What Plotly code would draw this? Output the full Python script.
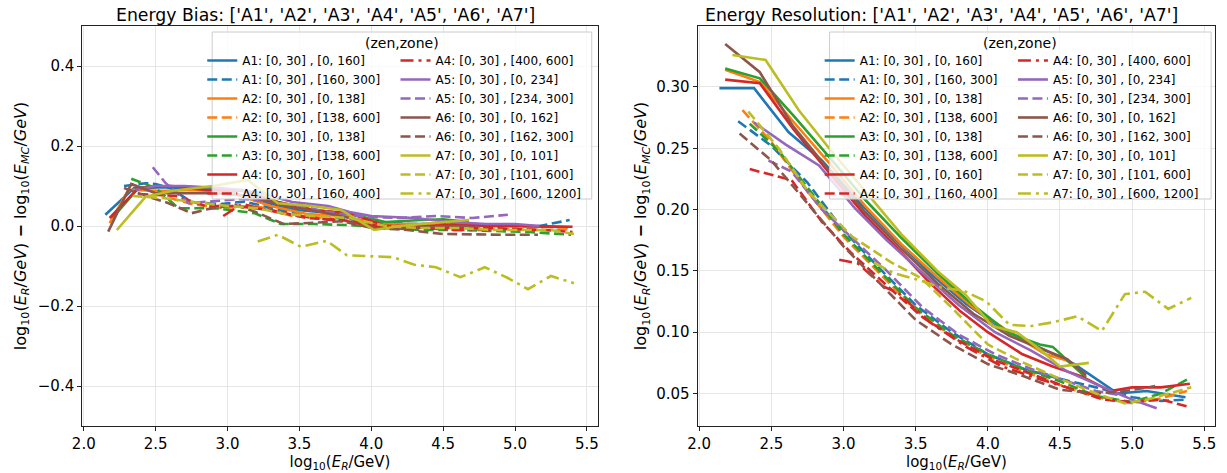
import plotly.graph_objects as go

# ---------------- data ----------------
labels = [
    "A1: [0, 30] , [0, 160]", "A1: [0, 30] , [160, 300]",
    "A2: [0, 30] , [0, 138]", "A2: [0, 30] , [138, 600]",
    "A3: [0, 30] , [0, 138]", "A3: [0, 30] , [138, 600]",
    "A4: [0, 30] , [0, 160]", "A4: [0, 30] , [160, 400]",
    "A4: [0, 30] , [400, 600]",
    "A5: [0, 30] , [0, 234]", "A5: [0, 30] , [234, 300]",
    "A6: [0, 30] , [0, 162]", "A6: [0, 30] , [162, 300]",
    "A7: [0, 30] , [0, 101]", "A7: [0, 30] , [101, 600]",
    "A7: [0, 30] , [600, 1200]",
]
colors = ["#1f77b4", "#1f77b4", "#ff7f0e", "#ff7f0e", "#2ca02c", "#2ca02c",
          "#d62728", "#d62728", "#d62728", "#9467bd", "#9467bd",
          "#8c564b", "#8c564b", "#bcbd22", "#bcbd22", "#bcbd22"]
styles = ["solid", "dash", "solid", "dash", "solid", "dash", "solid", "dash",
          "dashdot", "solid", "dash", "solid", "dash", "solid", "dash", "dashdot"]

bias_x = [
    [2.15, 2.35, 2.58, 2.80, 3.02, 3.25, 3.48, 3.70, 3.92, 4.15, 4.38, 4.60, 4.90, 5.10, 5.37],
    [2.28, 2.43, 2.50, 2.60, 2.75, 2.95, 3.12, 3.30, 3.50, 3.75, 4.00, 4.25, 4.50, 4.75, 5.00, 5.17, 5.38],
    [2.18, 2.31, 2.55, 2.80, 3.05, 3.30, 3.55, 3.80, 4.05, 4.30, 4.50, 4.68],
    [2.30, 2.45, 2.60, 2.75, 2.95, 3.20, 3.45, 3.70, 3.95, 4.20, 4.45, 4.70, 4.95, 5.20, 5.38],
    [2.20, 2.38, 2.60, 2.85, 3.10, 3.35, 3.60, 3.85, 4.10, 4.35, 4.50, 4.68],
    [2.33, 2.50, 2.66, 2.90, 3.19, 3.37, 3.60, 3.86, 4.10, 4.35, 4.60, 4.85, 5.10, 5.39],
    [2.18, 2.38, 2.60, 2.85, 3.10, 3.35, 3.60, 3.85, 4.10, 4.35, 4.60, 4.85, 5.10, 5.40],
    [2.38, 2.64, 2.85, 3.05, 3.30, 3.55, 3.80, 4.05, 4.30, 4.55, 4.80, 5.00, 5.20, 5.40],
    [2.97, 3.10, 3.28, 3.40, 3.60, 3.85, 4.10, 4.35, 4.60, 4.85],
    [2.36, 2.50, 2.70, 2.95, 3.20, 3.45, 3.70, 3.85, 4.00, 4.30, 4.55, 4.80, 5.00, 5.17],
    [2.48, 2.57, 2.73, 2.90, 3.10, 3.30, 3.50, 3.70, 3.95, 4.20, 4.45, 4.70, 4.95],
    [2.17, 2.33, 2.50, 2.70, 2.91, 3.15, 3.40, 3.65, 3.85, 4.02, 4.30, 4.55, 4.68],
    [2.28, 2.45, 2.59, 2.75, 2.86, 3.05, 3.19, 3.39, 3.60, 3.80, 4.00, 4.25, 4.50, 4.75, 4.95, 5.16],
    [2.23, 2.43, 2.62, 2.90, 3.14, 3.35, 3.58, 3.79, 4.02, 4.20, 4.45, 4.68],
    [2.34, 2.55, 2.76, 3.00, 3.20, 3.40, 3.60, 3.85, 4.10, 4.35, 4.60, 4.85, 5.10, 5.25, 5.41],
    [3.21, 3.35, 3.51, 3.69, 3.83, 3.99, 4.15, 4.30, 4.45, 4.62, 4.79, 4.95, 5.09, 5.25, 5.41],
]
bias_y = [
    [0.028, 0.095, 0.097, 0.090, 0.085, 0.060, 0.040, 0.033, 0.015, 0.005, 0.005, 0.003, 0.000, 0.000, -0.003],
    [0.100, 0.107, 0.105, 0.095, 0.060, 0.055, 0.061, 0.045, 0.030, 0.020, 0.012, 0.005, 0.005, 0.000, 0.000, 0.000, 0.015],
    [0.007, 0.090, 0.088, 0.090, 0.080, 0.050, 0.030, 0.025, 0.005, 0.005, 0.002, 0.000],
    [0.090, 0.090, 0.070, 0.055, 0.045, 0.050, 0.025, 0.020, 0.005, 0.000, -0.003, -0.005, -0.008, -0.010, -0.008],
    [0.020, 0.095, 0.100, 0.095, 0.090, 0.060, 0.040, 0.030, 0.010, 0.015, 0.017, 0.010],
    [0.118, 0.095, 0.044, 0.045, 0.032, 0.005, 0.005, 0.002, -0.005, -0.010, -0.010, -0.012, -0.015, -0.022],
    [0.020, 0.095, 0.100, 0.090, 0.088, 0.060, 0.040, 0.032, 0.000, 0.000, 0.003, 0.000, 0.000, -0.002],
    [0.080, 0.075, 0.050, 0.050, 0.040, 0.020, 0.015, 0.000, 0.000, -0.005, -0.005, -0.008, -0.010, -0.015],
    [0.025, 0.055, 0.040, 0.030, 0.020, 0.010, -0.005, -0.005, -0.010, -0.010],
    [0.090, 0.100, 0.100, 0.095, 0.085, 0.060, 0.050, 0.035, 0.025, 0.020, 0.010, 0.005, 0.005, 0.000],
    [0.147, 0.107, 0.057, 0.062, 0.068, 0.060, 0.050, 0.035, 0.023, 0.020, 0.025, 0.020, 0.028],
    [-0.014, 0.105, 0.082, 0.082, 0.082, 0.075, 0.050, 0.035, 0.020, -0.005, -0.005, 0.000, 0.000],
    [0.095, 0.073, 0.057, 0.032, 0.042, 0.053, 0.036, 0.005, 0.008, 0.012, -0.005, -0.010, -0.020, -0.022, -0.022, -0.022],
    [-0.010, 0.073, 0.088, 0.100, 0.115, 0.057, 0.050, 0.040, -0.010, 0.000, 0.008, 0.015],
    [0.075, 0.070, 0.060, 0.050, 0.045, 0.030, 0.025, 0.020, 0.000, -0.005, -0.005, -0.010, -0.010, -0.010, -0.020],
    [-0.039, -0.022, -0.052, -0.037, -0.073, -0.075, -0.078, -0.097, -0.103, -0.128, -0.103, -0.130, -0.158, -0.125, -0.143],
]

res_x = [
    [2.14, 2.38, 2.62, 2.85, 3.10, 3.35, 3.60, 3.85, 4.10, 4.35, 4.60, 4.90, 5.10, 5.37],
    [2.27, 2.50, 2.75, 3.00, 3.25, 3.50, 3.75, 4.00, 4.25, 4.50, 4.75, 5.00, 5.20, 5.38],
    [2.18, 2.42, 2.65, 2.90, 3.15, 3.40, 3.65, 3.90, 4.15, 4.40, 4.55, 4.68],
    [2.30, 2.50, 2.75, 3.00, 3.25, 3.50, 3.75, 4.00, 4.25, 4.50, 4.75, 5.00, 5.20, 5.38],
    [2.18, 2.42, 2.65, 2.90, 3.15, 3.40, 3.65, 3.90, 4.15, 4.36, 4.45, 4.68],
    [2.35, 2.55, 2.75, 3.00, 3.25, 3.50, 3.75, 4.00, 4.25, 4.50, 4.75, 5.00, 5.20, 5.39],
    [2.18, 2.42, 2.65, 2.90, 3.15, 3.40, 3.60, 3.81, 4.00, 4.24, 4.45, 4.65, 4.85, 5.00, 5.20, 5.40],
    [2.35, 2.64, 2.85, 3.05, 3.30, 3.55, 3.80, 4.05, 4.30, 4.55, 4.80, 5.00, 5.20, 5.40],
    [2.97, 3.10, 3.28, 3.38, 3.60, 3.85, 4.10, 4.35, 4.60, 4.85],
    [2.38, 2.60, 2.83, 3.08, 3.30, 3.55, 3.80, 4.05, 4.30, 4.55, 4.80, 5.00, 5.17],
    [2.48, 2.64, 2.85, 3.05, 3.30, 3.55, 3.80, 4.05, 4.30, 4.55, 4.75, 4.95],
    [2.18, 2.42, 2.65, 2.90, 3.15, 3.40, 3.65, 3.90, 4.15, 4.40, 4.55, 4.68],
    [2.28, 2.50, 2.75, 3.00, 3.25, 3.50, 3.75, 4.00, 4.25, 4.50, 4.75, 4.95, 5.16],
    [2.23, 2.46, 2.69, 2.90, 3.15, 3.40, 3.65, 3.85, 4.03, 4.20, 4.36, 4.50, 4.70],
    [2.34, 2.55, 2.76, 3.06, 3.33, 3.54, 3.75, 4.00, 4.25, 4.50, 4.75, 4.95, 5.10, 5.25, 5.41],
    [3.21, 3.35, 3.51, 3.69, 3.83, 3.99, 4.15, 4.30, 4.45, 4.62, 4.79, 4.95, 5.09, 5.25, 5.41],
]
res_y = [
    [0.299, 0.299, 0.263, 0.240, 0.207, 0.177, 0.148, 0.123, 0.103, 0.088, 0.074, 0.050, 0.052, 0.047],
    [0.272, 0.252, 0.222, 0.183, 0.152, 0.122, 0.100, 0.082, 0.070, 0.062, 0.055, 0.047, 0.044, 0.045],
    [0.314, 0.304, 0.272, 0.238, 0.203, 0.172, 0.145, 0.120, 0.100, 0.082, 0.077, 0.064],
    [0.281, 0.255, 0.215, 0.178, 0.148, 0.118, 0.097, 0.080, 0.068, 0.057, 0.047, 0.042, 0.046, 0.052],
    [0.315, 0.307, 0.277, 0.243, 0.208, 0.177, 0.148, 0.122, 0.099, 0.090, 0.088, 0.063],
    [0.270, 0.248, 0.218, 0.180, 0.150, 0.120, 0.098, 0.082, 0.070, 0.060, 0.048, 0.043, 0.050, 0.062],
    [0.306, 0.303, 0.266, 0.230, 0.195, 0.165, 0.140, 0.117, 0.100, 0.082, 0.072, 0.064, 0.052, 0.055, 0.055, 0.058],
    [0.233, 0.224, 0.190, 0.165, 0.138, 0.112, 0.093, 0.077, 0.066, 0.055, 0.045, 0.043, 0.045, 0.039],
    [0.159, 0.156, 0.137, 0.132, 0.108, 0.088, 0.072, 0.062, 0.053, 0.046],
    [0.271, 0.253, 0.236, 0.201, 0.175, 0.148, 0.122, 0.100, 0.085, 0.068, 0.055, 0.045, 0.038],
    [0.240, 0.231, 0.200, 0.178, 0.150, 0.120, 0.098, 0.082, 0.070, 0.060, 0.052, 0.048],
    [0.335, 0.312, 0.268, 0.232, 0.198, 0.168, 0.140, 0.115, 0.097, 0.085, 0.078, 0.065],
    [0.262, 0.240, 0.205, 0.170, 0.140, 0.110, 0.090, 0.074, 0.064, 0.053, 0.050, 0.052, 0.056],
    [0.326, 0.322, 0.281, 0.250, 0.215, 0.180, 0.150, 0.130, 0.105, 0.100, 0.086, 0.072, 0.075],
    [0.280, 0.250, 0.214, 0.178, 0.157, 0.144, 0.120, 0.090, 0.075, 0.062, 0.050, 0.042, 0.045, 0.050, 0.055],
    [0.157, 0.148, 0.143, 0.136, 0.134, 0.125, 0.106, 0.105, 0.108, 0.113, 0.101, 0.131, 0.133, 0.119, 0.128],
]

x_ticks = [2.0, 2.5, 3.0, 3.5, 4.0, 4.5, 5.0, 5.5]
bias_ticks = [-0.4, -0.2, 0.0, 0.2, 0.4]
res_ticks = [0.05, 0.10, 0.15, 0.20, 0.25, 0.30]
detectors = ['A1', 'A2', 'A3', 'A4', 'A5', 'A6', 'A7']

# ---------------- layout helpers ----------------
W, H = 1227, 473
FONT = "DejaVu Sans"
DASH = {"solid": "solid", "dash": "10px,4.5px", "dashdot": "13px,5px,3px,5px"}
LW = 2.6


def fx(p):
    return p / W


def fy(p):
    return 1 - p / H


fig = go.Figure()

for i in range(len(labels)):
    col = 0 if i < 8 else 1
    fig.add_trace(go.Scatter(
        x=bias_x[i], y=bias_y[i], mode="lines", name=labels[i],
        line=dict(color=colors[i], width=LW, dash=DASH[styles[i]]),
        xaxis="x", yaxis="y", legend="legend" if col == 0 else "legend2",
    ))
for i in range(len(labels)):
    col = 0 if i < 8 else 1
    fig.add_trace(go.Scatter(
        x=res_x[i], y=res_y[i], mode="lines", name=labels[i],
        line=dict(color=colors[i], width=LW, dash=DASH[styles[i]]),
        xaxis="x2", yaxis="y2", legend="legend3" if col == 0 else "legend4",
    ))

axis_common = dict(
    showgrid=True, gridcolor="#e6e6e6", gridwidth=1, zeroline=False,
    showline=True, linecolor="#222222", linewidth=1.2, mirror=True,
    ticks="outside", ticklen=4, tickcolor="#222222",
    tickfont=dict(family=FONT, size=15, color="#000"),
)
xtitle = "log<sub>10</sub>(<i>E<sub>R</sub></i>/GeV)"
ytitle = ("log<sub>10</sub>(<i>E<sub>R</sub></i>/<i>GeV</i>) <b>\u2212</b> "
          "log<sub>10</sub>(<i>E<sub>MC</sub></i>/<i>GeV</i>)")

ydom = [fy(426), fy(26)]
fig.update_layout(
    width=W, height=H, margin=dict(l=0, r=0, t=0, b=0),
    paper_bgcolor="white", plot_bgcolor="white",
    font=dict(family=FONT, color="#000"),
    showlegend=True,
    xaxis=dict(domain=[fx(73), fx(593)], range=[1.99, 5.575], anchor="y",
               tickvals=x_ticks, tickformat=".1f",
               title=dict(text=xtitle, font=dict(size=15), standoff=0), **axis_common),
    yaxis=dict(domain=ydom, range=[-0.5, 0.5], anchor="x",
               tickvals=bias_ticks, tickformat=".1f",
               title=dict(text=ytitle, font=dict(size=16), standoff=7), **axis_common),
    xaxis2=dict(domain=[fx(694), fx(1216)], range=[1.99, 5.575], anchor="y2",
                tickvals=x_ticks, tickformat=".1f",
                title=dict(text=xtitle, font=dict(size=15), standoff=0), **axis_common),
    yaxis2=dict(domain=ydom, range=[0.0235, 0.3497], anchor="x2",
                tickvals=res_ticks, tickformat=".2f",
                title=dict(text=ytitle, font=dict(size=16), standoff=5), **axis_common),
)

leg_common = dict(xanchor="left", yanchor="top", bgcolor="rgba(0,0,0,0)",
                  borderwidth=0, tracegroupgap=0, itemwidth=30,
                  font=dict(family=FONT, size=12, color="#000"))
LEG_TOP = fy(46)
fig.update_layout(
    legend=dict(x=fx(194), y=LEG_TOP, **leg_common),
    legend2=dict(x=fx(389), y=LEG_TOP, **leg_common),
    legend3=dict(x=fx(817), y=LEG_TOP, **leg_common),
    legend4=dict(x=fx(1012), y=LEG_TOP, **leg_common),
)

# legend frames and titles
for (x0, x1) in [(204, 587), (827, 1212)]:
    fig.add_shape(type="rect", xref="paper", yref="paper",
                  x0=fx(x0), x1=fx(x1), y0=fy(199), y1=fy(32),
                  line=dict(color="#cccccc", width=1),
                  fillcolor="rgba(255,255,255,0.8)", layer="above")
    fig.add_annotation(text="(zen,zone)", xref="paper", yref="paper",
                       x=fx((x0 + x1) / 2), y=fy(43), showarrow=False,
                       xanchor="center", yanchor="middle",
                       font=dict(family=FONT, size=14, color="#000"))

# titles
det_str = "[" + ", ".join("'" + d + "'" for d in detectors) + "]"
for cx, txt in [(318, "Energy Bias: " + det_str), (940, "Energy Resolution: " + det_str)]:
    fig.add_annotation(text=txt, xref="paper", yref="paper", x=fx(cx), y=fy(15),
                       showarrow=False, xanchor="center", yanchor="middle",
                       font=dict(family=FONT, size=17.3, color="#000"))

fig.write_html("out.html")
